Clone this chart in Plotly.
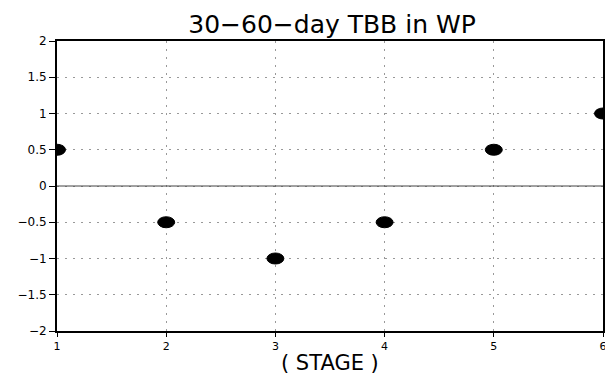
import plotly.graph_objects as go

stages = [1, 2, 3, 4, 5, 6]
tbb = [0.5, -0.5, -1.0, -0.5, 0.5, 1.0]
y_ticks = [-2, -1.5, -1, -0.5, 0, 0.5, 1, 1.5, 2]
y_tick_text = ["\u22122", "\u22121.5", "\u22121", "\u22120.5", "0", "0.5", "1", "1.5", "2"]

# page body has an 8px default margin, so the figure is sized to fit the window
W, H = 605, 371

fig = go.Figure()
fig.add_trace(go.Scatter(x=stages, y=tbb, mode="markers",
                         marker=dict(size=1, color="rgba(0,0,0,0)"),
                         hoverinfo="x+y", showlegend=False, cliponaxis=False))

shapes = []
shapes.append(dict(type="line", xref="paper", x0=0, x1=1, yref="y", y0=0, y1=0,
                   line=dict(color="#444", width=1), layer="above"))
for xv, yv in zip(stages, tbb):
    shapes.append(dict(type="circle", xref="x", yref="y",
                       xsizemode="pixel", ysizemode="pixel",
                       xanchor=xv, yanchor=yv,
                       x0=-8.5, x1=8.5, y0=-5.5, y1=5.5,
                       fillcolor="black", line=dict(color="black", width=1),
                       layer="above"))

fig.update_layout(
    width=W, height=H,
    margin=dict(l=49, r=10, t=33, b=48, autoexpand=False),
    plot_bgcolor="white", paper_bgcolor="white",
    title=dict(text="30\u221260\u2212day TBB in WP", x=(332 - 8) / W, xanchor="center",
               xref="container", y=1 - 16 / H, yanchor="middle", yref="container",
               automargin=False,
               font=dict(family="DejaVu Sans", size=25, color="black")),
    shapes=shapes,
    showlegend=False,
    annotations=[dict(text="( STAGE )", xref="paper", yref="paper",
                      x=0.5, y=-(363 - 331) / 290, xanchor="center", yanchor="middle",
                      showarrow=False,
                      font=dict(family="DejaVu Sans", size=21, color="black"))],
)
fig.update_xaxes(range=[1, 6], tickvals=stages, ticks="outside", ticklen=4,
                 tickcolor="black", showline=True, linecolor="black", linewidth=2,
                 mirror=True, showgrid=True, gridcolor="#999", griddash="2px,6px",
                 gridwidth=1, zeroline=False, automargin=False,
                 tickfont=dict(family="DejaVu Sans", size=11, color="black"))
fig.update_yaxes(range=[-2, 2], tickvals=y_ticks, ticktext=y_tick_text,
                 ticks="outside", ticklen=6, tickcolor="black",
                 showline=True, linecolor="black", linewidth=2, mirror=True,
                 showgrid=True, gridcolor="#999", griddash="2px,6px", gridwidth=1,
                 zeroline=False, automargin=False,
                 tickfont=dict(family="DejaVu Sans", size=12, color="black"))

fig.write_html("out.html")
